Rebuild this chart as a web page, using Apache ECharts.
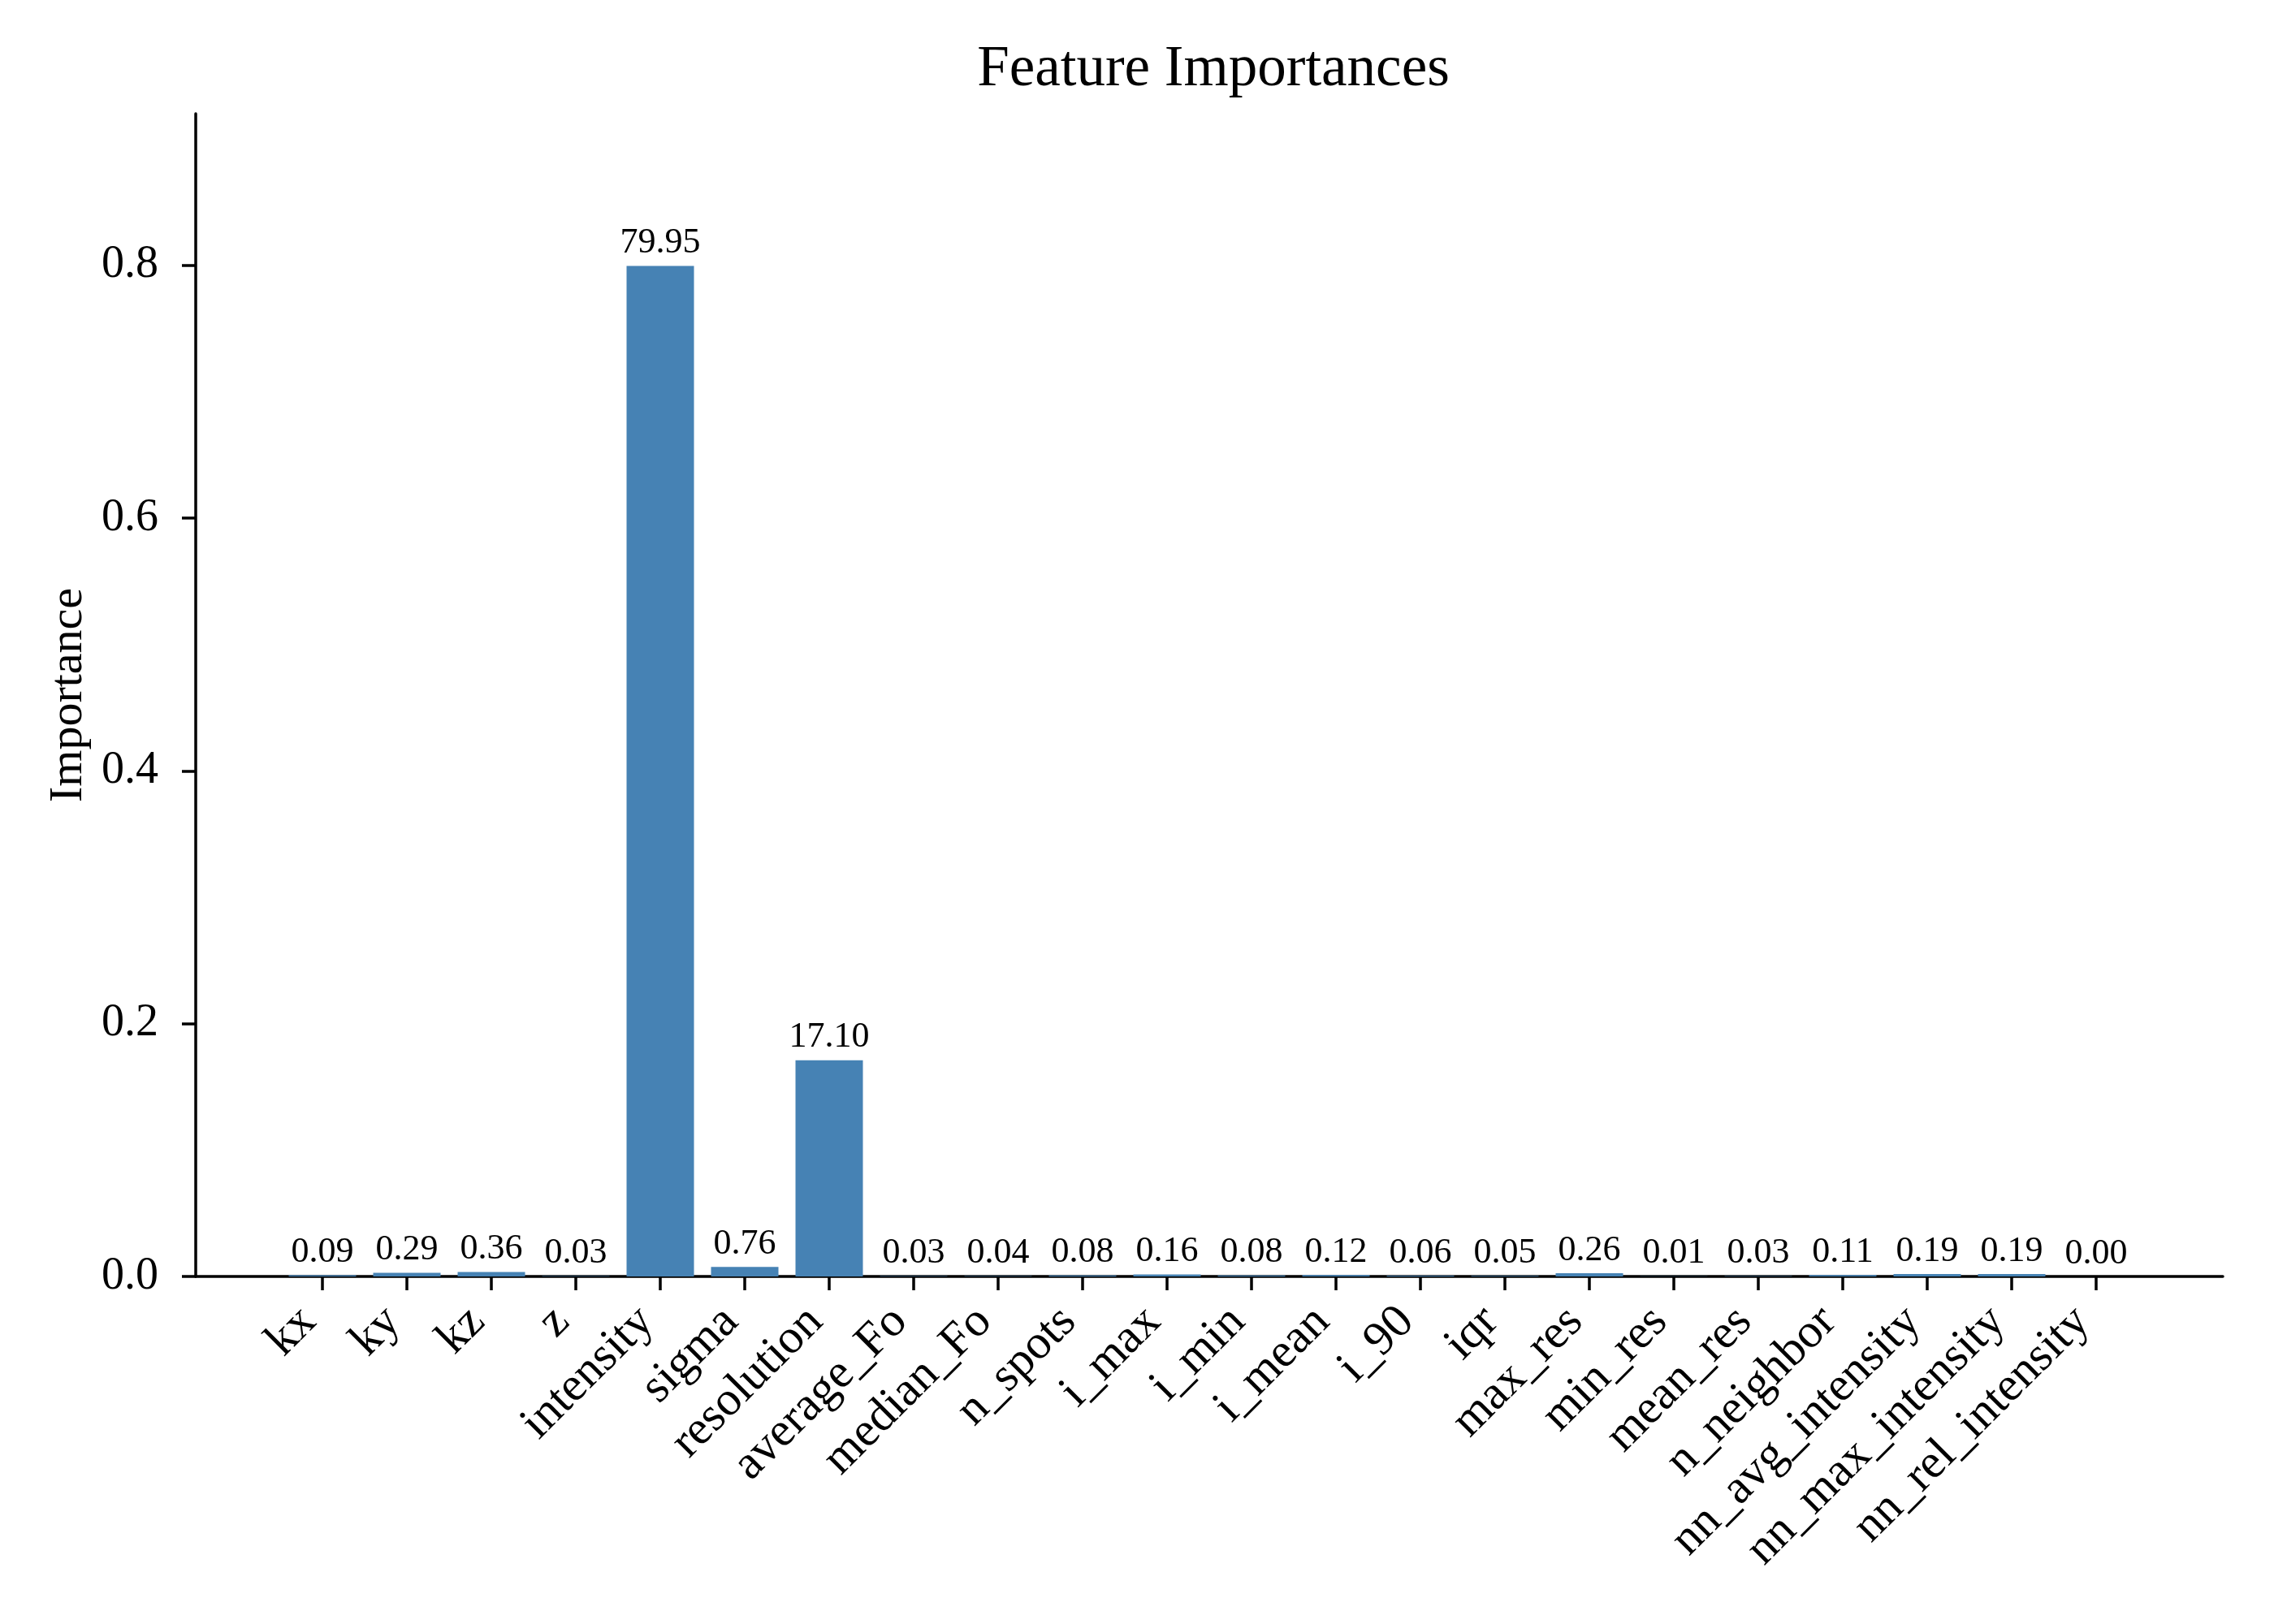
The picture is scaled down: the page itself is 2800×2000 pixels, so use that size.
<!DOCTYPE html>
<html>
<head>
<meta charset="utf-8">
<script src="https://cdn.jsdelivr.net/npm/echarts@6/dist/echarts.min.js"></script>
<style>
  html, body { margin: 0; padding: 0; background: #fff; }
  #chart { width: 2800px; height: 2000px; }
</style>
</head>
<body>
<div id="chart"></div>
<script>
// feature names, left to right
var features = ['kx', 'ky', 'kz', 'z', 'intensity', 'sigma', 'resolution', 'average_Fo',
    'median_Fo', 'n_spots', 'i_max', 'i_min', 'i_mean', 'i_90', 'iqr', 'max_res', 'min_res',
    'mean_res', 'n_neighbor', 'nn_avg_intensity', 'nn_max_intensity', 'nn_rel_intensity'];
// importances in percent (as printed above the bars)
var importancePct = [0.09, 0.29, 0.36, 0.03, 79.95, 0.76, 17.10, 0.03,
    0.04, 0.08, 0.16, 0.08, 0.12, 0.06, 0.05, 0.26, 0.01,
    0.03, 0.11, 0.19, 0.19, 0.00];
var yTicks = [0, 0.2, 0.4, 0.6, 0.8];

var FONT = '"Liberation Serif", "DejaVu Serif", serif';

var positions = features.map(function (f, i) { return i; });
var barData = importancePct.map(function (p, i) { return [i, p / 100]; });

var myChart = echarts.init(document.getElementById('chart'));
var option = {
    backgroundColor: '#fff',
    animation: false,
    title: {
        text: 'Feature Importances',
        left: 1489,
        top: 46,
        textAlign: 'center',
        textStyle: { fontFamily: FONT, fontWeight: 'normal', fontSize: 71, color: '#000' }
    },
    grid: { left: 241, right: 63, top: 140, bottom: 428, containLabel: false },
    xAxis: {
        type: 'value',
        min: -1.5,
        max: 22.5,
        splitLine: { show: false },
        axisLine: { onZero: false, lineStyle: { color: '#000', width: 3.5 } },
        axisTick: { customValues: positions, length: 17, lineStyle: { color: '#000', width: 3.5 } },
        axisLabel: {
            customValues: positions,
            rotate: 45,
            margin: 30,
            padding: [0, 24, 0, 0],
            fontFamily: FONT,
            fontSize: 59,
            color: '#000',
            formatter: function (v) { return features[Math.round(v)]; }
        }
    },
    yAxis: {
        type: 'value',
        min: 0,
        max: 0.92,
        name: 'Importance',
        nameLocation: 'middle',
        nameGap: 124,
        nameRotate: 90,
        nameTextStyle: { fontFamily: FONT, fontSize: 58, color: '#000' },
        splitLine: { show: false },
        axisLine: { show: true, onZero: false, lineStyle: { color: '#000', width: 3.5 } },
        axisTick: { show: true, customValues: yTicks, length: 17, lineStyle: { color: '#000', width: 3.5 } },
        axisLabel: {
            customValues: yTicks,
            margin: 46,
            fontFamily: FONT,
            fontSize: 56,
            color: '#000',
            formatter: function (v) { return v.toFixed(1); }
        }
    },
    series: [{
        type: 'bar',
        data: barData,
        barWidth: 83,
        itemStyle: { color: '#4682b4' },
        label: {
            show: true,
            position: 'top',
            distance: 6,
            fontFamily: FONT,
            fontSize: 44,
            color: '#000',
            formatter: function (p) { return (p.value[1] * 100).toFixed(2); }
        }
    }]
};
myChart.setOption(option);
</script>
</body>
</html>
